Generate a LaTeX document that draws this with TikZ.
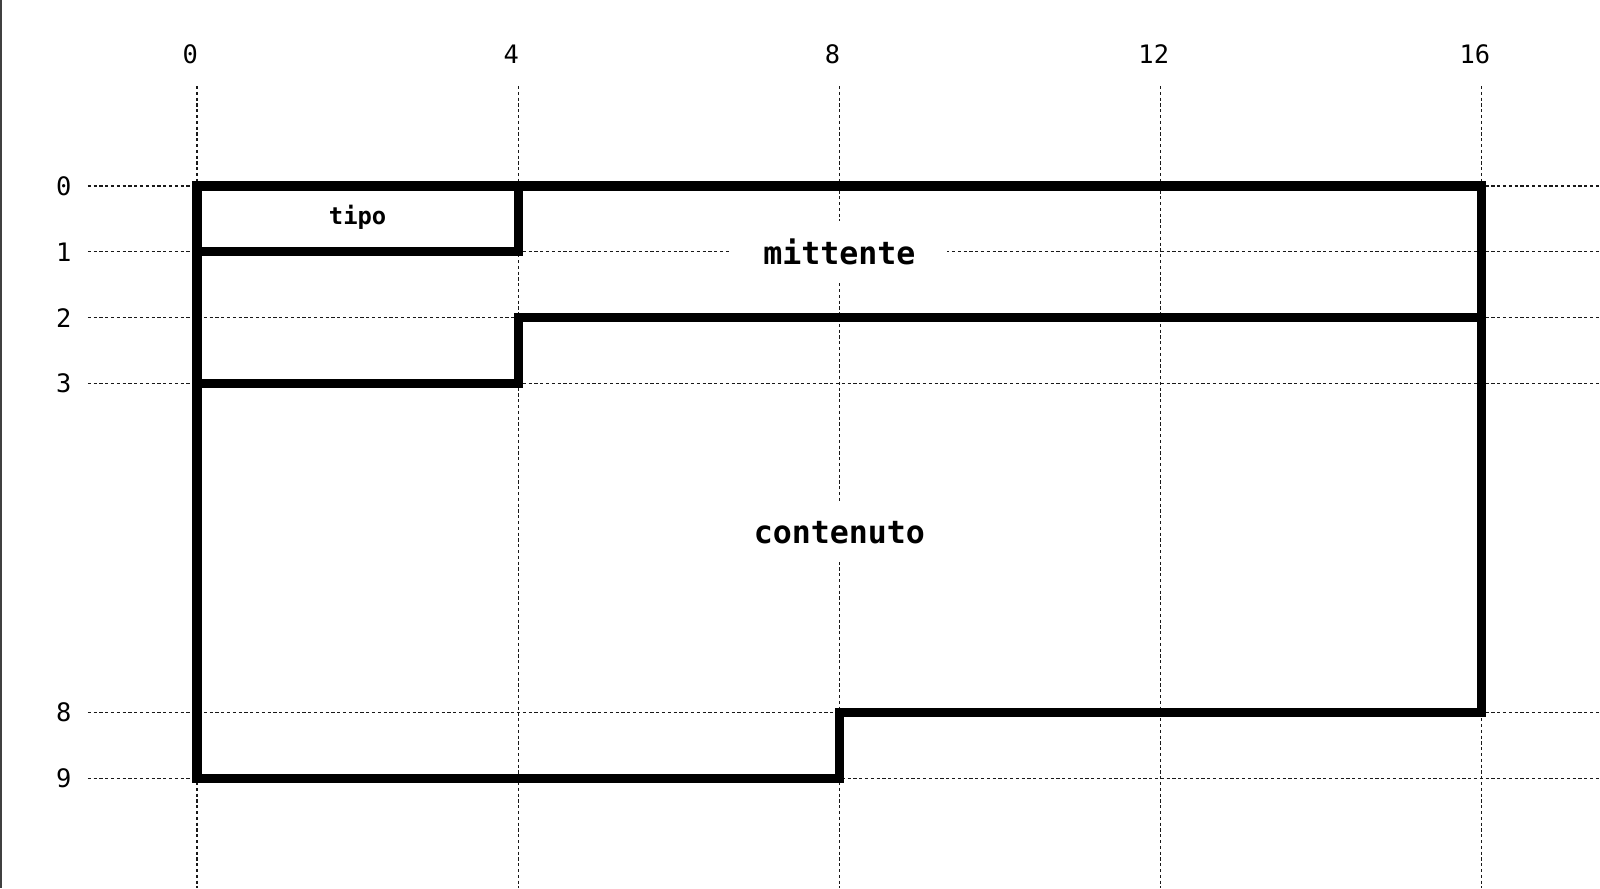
\documentclass[tikz,border=0pt]{standalone}
\usepackage{fontspec}
\setmonofont{DejaVu Sans Mono}
\begin{document}
\begin{tikzpicture}[x={(40.15pt,0)}, y={(0,-32.9pt)},
  gridline/.style={line width=0.65pt, dash pattern=on 1.6pt off 1.3pt, black!90},
  wall/.style={line width=4.6pt, line join=miter},
  lbl/.style={font=\ttfamily\bfseries\fontsize{15.8}{18}\selectfont, fill=white, inner xsep=16pt, inner ysep=9pt},
  small/.style={font=\ttfamily\bfseries\fontsize{11.9}{14}\selectfont},
  num/.style={font=\ttfamily\fontsize{12.7}{14}\selectfont}]
\useasboundingbox (-2.453,-2.827) rectangle (17.472,10.669);
\draw[line width=1.2pt, black!75] (-2.44,-2.827) -- (-2.44,10.669);
% grid
\foreach \x in {0,4,8,12,16} {
  \draw[gridline] (\x,-1.52) -- (\x,10.669);
  \node[num] (c\x) at (\x-0.085,-2.0) {\x};
}
\foreach \y in {0,1,2,3,8,9} {
  \draw[gridline] (-1.36,\y) -- (17.472,\y);
  \node[num] (r\y) at (-1.66,\y) {\y};
}
% labels
\node[small] (tipo) at (2,0.48) {tipo};
\node[lbl] (mittente) at (8,1) {mittente};
\node[lbl] (contenuto) at (8,5.27) {contenuto};
% walls
\draw[wall] (0,0) -- (16,0) -- (16,8) -- (8,8) -- (8,9) -- (0,9) -- cycle;
\draw[wall] (0,1) -- (4,1) -- (4,0);
\draw[wall] (0,3) -- (4,3) -- (4,2) -- (16,2);
\end{tikzpicture}
\end{document}
